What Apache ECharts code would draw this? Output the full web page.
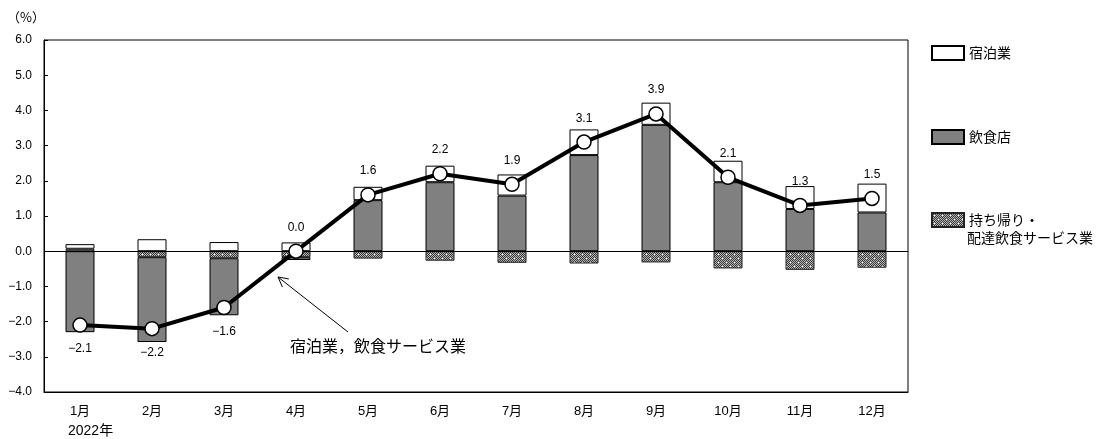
<!DOCTYPE html>
<html>
<head>
<meta charset="utf-8">
<script src="https://cdn.jsdelivr.net/npm/echarts@6/dist/echarts.min.js"></script>
<style>
html,body{margin:0;padding:0;background:#fff;}
#chart{width:1105px;height:439px;}
</style>
</head>
<body>
<div id="chart"></div>
<script>
const categories = ['1月','2月','3月','4月','5月','6月','7月','8月','9月','10月','11月','12月'];
const lodging = [0.13, 0.34, 0.26, 0.25, 0.38, 0.47, 0.60, 0.73, 0.63, 0.61, 0.65, 0.82];
const restaurants = [-2.30, -2.41, -1.62, -0.08, 1.45, 1.96, 1.58, 2.73, 3.59, 1.96, 1.20, 1.10];
const takeout = [0.07, -0.17, -0.20, -0.17, -0.21, -0.27, -0.33, -0.35, -0.32, -0.49, -0.53, -0.47];
const total = [-2.1, -2.2, -1.6, 0.0, 1.6, 2.2, 1.9, 3.1, 3.9, 2.1, 1.3, 1.5];

const NAME_LODGING = '宿泊業';
const NAME_REST = '飲食店';
const NAME_TAKEOUT = '持ち帰り・配達飲食サービス業';
const NAME_TOTAL = '宿泊業，飲食サービス業';

const FONT = "'Liberation Sans', Arial, 'Noto Sans CJK JP', sans-serif";
const JFONT = "'Noto Sans CJK JP', sans-serif";

function fmt(v) {
  return v.toFixed(1).replace('-', '−');
}

// hatched pattern
const pc = document.createElement('canvas');
pc.width = 8; pc.height = 8;
const pctx = pc.getContext('2d');
for (let x = 0; x < 8; x++) {
  for (let y = 0; y < 8; y++) {
    pctx.fillStyle = ((x + y) % 2 === 0) ? '#3a3a3a' : '#b4b4b4';
    pctx.fillRect(x, y, 1, 1);
  }
}
pctx.fillStyle = '#ffffff';
pctx.fillRect(2, 2, 1, 1);
pctx.fillRect(6, 6, 1, 1);

const chart = echarts.init(document.getElementById('chart'), null, {renderer: 'canvas'});

// arrow geometry (annotation)
const tip = [278, 277], tail = [348, 332];
const dx = tail[0] - tip[0], dy = tail[1] - tip[1];
const len = Math.sqrt(dx*dx + dy*dy);
const ux = dx/len, uy = dy/len;
const ah = 11, ang = 28 * Math.PI/180;
function rot(x, y, a) { return [x*Math.cos(a) - y*Math.sin(a), x*Math.sin(a) + y*Math.cos(a)]; }
const r1 = rot(ux, uy, ang), r2 = rot(ux, uy, -ang);

const legendBase = {
  orient: 'vertical',
  left: 931,
  padding: 0,
  itemWidth: 32,
  itemHeight: 14,
  itemGap: 0,
  icon: 'rect',
  textStyle: {fontFamily: JFONT, fontSize: 14, color: '#000'},
  selectedMode: false
};

const option = {
  backgroundColor: '#fff',
  animation: false,
  textStyle: {fontFamily: FONT},
  grid: {left: 44, top: 40, right: 197, bottom: 47, show: true, borderColor: '#000', borderWidth: 1, backgroundColor: 'transparent'},
  legend: [
    Object.assign({}, legendBase, {top: 45, data: [NAME_LODGING]}),
    Object.assign({}, legendBase, {top: 129, data: [NAME_REST]}),
    Object.assign({}, legendBase, {top: 212, data: [NAME_TAKEOUT], formatter: function(){ return '持ち帰り・'; }})
  ],
  xAxis: {
    type: 'category',
    data: categories,
    position: 'bottom',
    axisLine: {onZero: false, lineStyle: {color: '#000', width: 1}},
    axisTick: {inside: true, length: 4, lineStyle: {color: '#000'}},
    axisLabel: {color: '#000', fontSize: 13, margin: 13, fontFamily: FONT},
    splitLine: {show: false}
  },
  yAxis: {
    type: 'value',
    min: -4, max: 6, interval: 1,
    axisLine: {show: true, lineStyle: {color: '#000', width: 1}},
    axisTick: {show: true, inside: true, length: 4, lineStyle: {color: '#000'}},
    axisLabel: {color: '#000', fontSize: 12, margin: 12, fontFamily: FONT, formatter: fmt},
    splitLine: {show: false}
  },
  series: [
    {
      name: NAME_TAKEOUT, type: 'bar', stack: 'a', barWidth: 29,
      data: takeout,
      itemStyle: {color: {image: pc, repeat: 'repeat'}, borderColor: '#222', borderWidth: 1},
      markLine: {
        silent: true, symbol: ['none', 'none'],
        label: {show: false},
        lineStyle: {color: '#000', width: 1, type: 'solid'},
        data: [{yAxis: 0}]
      }
    },
    {
      name: NAME_REST, type: 'bar', stack: 'a', barWidth: 29,
      data: restaurants,
      itemStyle: {color: '#808080', borderColor: '#000', borderWidth: 1}
    },
    {
      name: NAME_LODGING, type: 'bar', stack: 'a', barWidth: 29,
      data: lodging,
      itemStyle: {color: '#ffffff', borderColor: '#000', borderWidth: 1}
    },
    {
      name: NAME_TOTAL, type: 'line', z: 5,
      data: total.map(function(v){
        return {value: v, label: {position: v < 0 ? 'bottom' : 'top'}};
      }),
      lineStyle: {color: '#000', width: 4},
      symbol: 'circle', symbolSize: 14,
      itemStyle: {color: '#fff', borderColor: '#000', borderWidth: 1.5},
      label: {show: true, distance: 10, color: '#000', fontSize: 12, fontFamily: FONT,
        formatter: function(p){ return fmt(p.value); }}
    }
  ],
  graphic: [
    {type: 'text', left: 7, top: 11, style: {text: '（%）', font: "13px " + JFONT, fill: '#000'}},
    {type: 'text', left: 68, top: 424, style: {text: '2022年', font: "14px " + FONT, fill: '#000'}},
    {type: 'text', left: 967, top: 231, style: {text: '配達飲食サービス業', font: "14px " + JFONT, fill: '#000'}},
    {type: 'text', left: 290, top: 338, style: {text: '宿泊業，飲食サービス業', font: "16px " + JFONT, fill: '#000'}},
    {type: 'line', shape: {x1: tail[0], y1: tail[1], x2: tip[0], y2: tip[1]}, style: {stroke: '#000', lineWidth: 1}},
    {type: 'polyline', shape: {points: [[tip[0] + r1[0]*ah, tip[1] + r1[1]*ah], tip, [tip[0] + r2[0]*ah, tip[1] + r2[1]*ah]]}, style: {stroke: '#000', lineWidth: 1, fill: null}}
  ]
};
chart.setOption(option);
</script>
</body>
</html>
